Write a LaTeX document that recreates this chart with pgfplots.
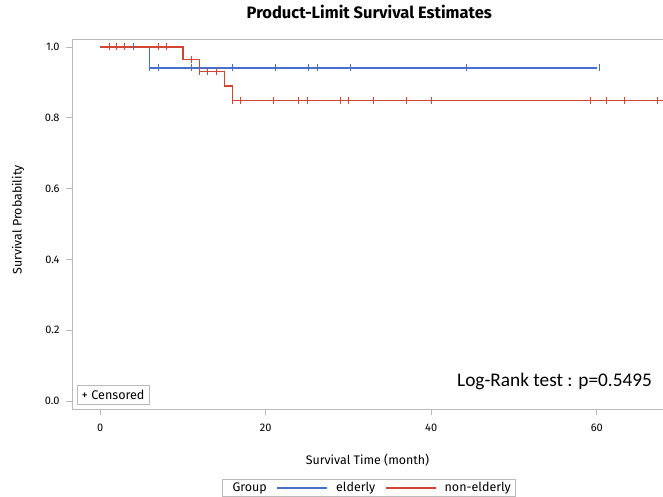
\documentclass[border=0pt]{standalone}
\usepackage{xcolor}
\usepackage{fontspec}
\setmainfont{Fira Sans}
\newfontfamily\calfont{Carlito}
\usepackage{pgfplots}
\pgfplotsset{compat=1.18}
\usetikzlibrary{calc}
\definecolor{sasblue}{rgb}{0.28,0.44,0.80}
\definecolor{sasred}{rgb}{0.82,0.27,0.20}
\definecolor{axgray}{rgb}{0.73,0.73,0.73}

\pgfplotstableread{
x y
0 1
6 0.941
60 0.941
}\elderly
\pgfplotstableread{
x y
0 1
10 0.9655
12 0.9298
15 0.8894
16 0.849
68 0.849
}\nonelderly
\pgfplotstableread{
x y
4 1
6 0.941
7 0.941
11 0.941
16 0.941
21.2 0.941
25.2 0.941
26.2 0.941
30.2 0.941
44.2 0.941
60.3 0.941
}\elderlycens
\pgfplotstableread{
x y
1.1 1
2 1
3 1
7 1
8 1
11 0.9655
12 0.9298
13 0.9298
14 0.9298
16 0.849
17 0.849
21 0.849
24 0.849
25 0.849
29 0.849
30 0.849
33 0.849
37 0.849
40 0.849
59.3 0.849
61.2 0.849
63.3 0.849
67.3 0.849
}\nonelderlycens

\begin{document}
\begin{tikzpicture}
\begin{axis}[name=a, scale only axis, width=591pt, height=370pt,
  xmin=-3.4, xmax=68, ymin=-0.0226, ymax=1.0226,
  axis x line=box, axis y line=left,
  axis line style={-, draw=axgray, line width=0.8pt},
  xtick={0,20,40,60}, ytick={0,0.2,0.4,0.6,0.8,1},
  xtick pos=bottom, ytick pos=left,
  yticklabel style={/pgf/number format/fixed, /pgf/number format/fixed zerofill, /pgf/number format/precision=1, xshift=-3pt},
  /pgf/number format/assume math mode=true,
  tick align=outside, major tick length=6pt,
  tick style={draw=axgray, line width=0.8pt},
  ticklabel style={font=\fontsize{11}{13}\selectfont},
  xticklabel style={yshift=-5pt},
  xlabel={Survival Time (month)}, ylabel={Survival Probability},
  label style={font=\fontsize{12.4}{14}\selectfont},
  xlabel style={at={(axis description cs:0.5,0)}, anchor=center, yshift=-51pt},
  ylabel style={at={(axis description cs:0,0.511)}, anchor=center, yshift=54pt},
  title={Product-Limit Survival Estimates},
  title style={at={(axis description cs:0.503,1)}, anchor=center, yshift=21pt, font=\fontsize{16.5}{18}\selectfont\bfseries},
  legend style={at={(axis description cs:0.502,-0.19)}, anchor=north, legend columns=3,
    draw=axgray, font=\fontsize{12.5}{14}\selectfont, inner xsep=2pt, inner ysep=1pt,
    /tikz/every odd column/.append style={column sep=6pt},
    /tikz/every even column/.append style={column sep=8pt}},
  legend image code/.code={\draw[#1] (0pt,0pt) -- (25pt,0pt) -- (50pt,0pt);},
]
\addlegendimage{empty legend}
\addlegendentry{Group\hspace{20pt}}
\addlegendimage{sasblue, line width=1.3pt}
\addlegendentry{elderly}
\addlegendimage{sasred, line width=1.3pt}
\addlegendentry{non-elderly}
\addplot[forget plot, const plot, sasred, line width=1.3pt, no marks] table {\nonelderly};
\addplot[forget plot, const plot, sasblue, line width=1.3pt, no marks] table {\elderly};
\addplot[forget plot, const plot, sasred, line width=1.3pt, no marks] table {\nonelderly};
\addplot[forget plot, only marks, mark=|, mark size=3.5pt, mark options={draw=sasblue, line width=1pt}] table {\elderlycens};
\addplot[forget plot, only marks, mark=|, mark size=3.5pt, mark options={draw=sasred, line width=1pt}] table {\nonelderlycens};
\node[draw=axgray, anchor=south west, font=\fontsize{12.6}{14}\selectfont, inner sep=4.5pt] at ($(rel axis cs:0,0)+(5pt,5pt)$) {+ Censored};
\node[font=\calfont\fontsize{19.3}{22}\selectfont] at (axis cs:54.9,0.0565) {Log-Rank test : p=0.5495};
\end{axis}
\pgfresetboundingbox
\path[use as bounding box] ($(a.south west)+(-72pt,-88pt)$) rectangle ($(a.north east)+(0pt,39pt)$);
\end{tikzpicture}
\end{document}
